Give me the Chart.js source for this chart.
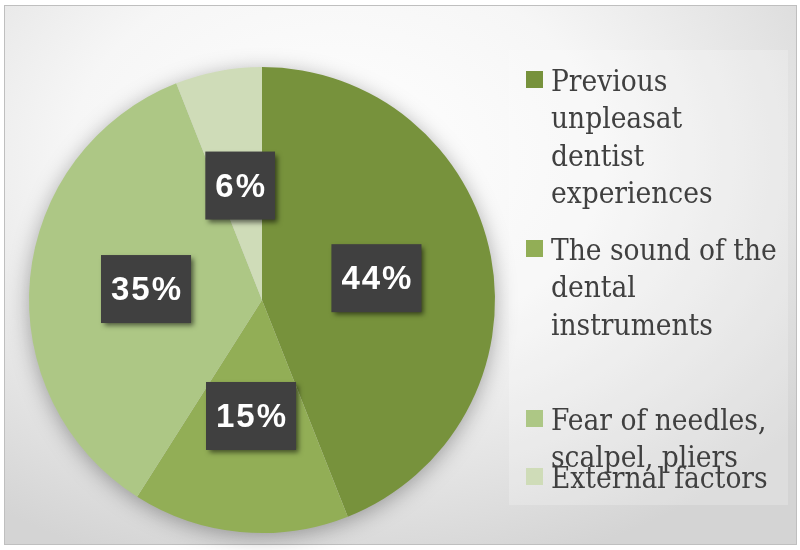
<!DOCTYPE html>
<html>
<head>
<meta charset="utf-8">
<script src="https://cdn.jsdelivr.net/npm/chart.js@4.4.1/dist/chart.umd.min.js"></script>
<style>
html,body{margin:0;padding:0;background:#fff;}
#wrap{position:relative;width:800px;height:550px;}
#frame{position:absolute;left:4px;top:5px;width:791px;height:538px;border:1.5px solid #bfbfbf;
background:radial-gradient(ellipse 75% 80% at 42% 28%, #ffffff 0%, #f6f6f6 45%, #e4e4e4 75%, #d4d4d4 100%);}
#legbox{position:absolute;left:509px;top:50px;width:279px;height:455px;background:rgba(255,255,255,0.22);}
canvas{position:absolute;left:0;top:0;}
</style>
</head>
<body>
<div id="wrap">
<div id="frame"></div>
<div id="legbox"></div>
<canvas id="grafico" width="800" height="550"></canvas>
</div>
<script>
const categorias = [
["Previous","unpleasat","dentist","experiences"],
["The sound of the","dental","instruments"],
["Fear of needles,","scalpel, pliers"],
["External factors"]
];
const valores = [44, 15, 35, 6];
const etiquetas = ["44%", "15%", "35%", "6%"];
const colores = ["#77923c", "#92ae56", "#adc785", "#cfdcb8"];

// sombra detras del pastel
const sombraPie = {
id: 'sombraPie',
beforeDatasetsDraw(chart){
    const arc = chart.getDatasetMeta(0).data[0];
    const ctx = chart.ctx;
    ctx.save();
    ctx.shadowColor = 'rgba(0,0,0,0.35)';
    ctx.shadowBlur = 22;
    ctx.shadowOffsetY = 4;
    ctx.fillStyle = '#cccccc';
    ctx.beginPath();
    ctx.arc(arc.x, arc.y, arc.outerRadius - 1, 0, Math.PI*2);
    ctx.fill();
    ctx.restore();
}
};

// cajas de porcentaje
const cajas = {
id: 'cajas',
afterDatasetsDraw(chart){
    const ctx = chart.ctx;
    const meta = chart.getDatasetMeta(0);
    ctx.save();
    ctx.font = 'bold 33px "Liberation Sans", Arial, sans-serif';
    ctx.letterSpacing = '2px';
    meta.data.forEach((arc, i) => {
        const mid = (arc.startAngle + arc.endAngle) / 2;
        const r = arc.outerRadius * 0.5;
        const cx = arc.x + Math.cos(mid) * r;
        const cy = arc.y + Math.sin(mid) * r;
        const t = etiquetas[i];
        const w = ctx.measureText(t).width + 18;
        const h = 68;
        ctx.save();
        ctx.shadowColor = 'rgba(0,0,0,0.55)';
        ctx.shadowBlur = 5;
        ctx.shadowOffsetX = 3;
        ctx.shadowOffsetY = 3;
        ctx.fillStyle = '#404040';
        ctx.fillRect(cx - w/2, cy - h/2, w, h);
        ctx.restore();
        ctx.fillStyle = '#ffffff';
        ctx.textAlign = 'center';
        ctx.textBaseline = 'middle';
        ctx.fillText(t, cx + 1, cy + 2);
    });
    ctx.restore();
}
};

// leyenda a la derecha
const leyenda = {
id: 'leyenda',
afterDraw(chart){
    const ctx = chart.ctx;
    const inicios = [91, 260, 430, 488];
    ctx.save();
    ctx.font = '29.5px "DejaVu Serif Condensed", "DejaVu Serif", serif';
    ctx.textBaseline = 'alphabetic';
    chart.data.labels.forEach((lab, i) => {
        const y0 = inicios[i];
        ctx.fillStyle = colores[i];
        ctx.fillRect(526, y0 - 20, 17, 17);
        ctx.fillStyle = '#404040';
        lab.forEach((linea, k) => {
            ctx.fillText(linea, 551, y0 + k * 37.3);
        });
    });
    ctx.restore();
}
};

new Chart(document.getElementById('grafico'), {
type: 'pie',
data: {
    labels: categorias,
    datasets: [{
        data: valores,
        backgroundColor: colores,
        borderWidth: 0
    }]
},
options: {
    responsive: false,
    animation: false,
    layout: { padding: { top: 67, bottom: 17, left: 29, right: 305 } },
    plugins: {
        legend: { display: false },
        tooltip: { enabled: false }
    }
},
plugins: [sombraPie, cajas, leyenda]
});
</script>
</body>
</html>
